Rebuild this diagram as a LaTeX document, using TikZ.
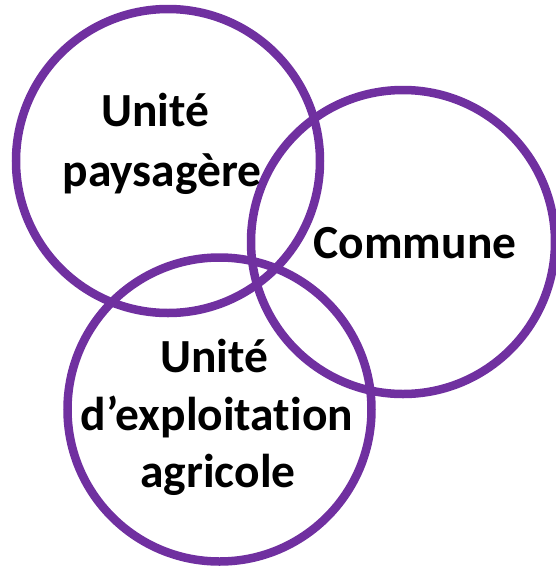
\documentclass[tikz,border=0pt]{standalone}
\usepackage{fontspec}
\setmainfont{Carlito}[Ligatures=NoCommon]
\definecolor{vpurple}{HTML}{7030A0}
\begin{document}
\begin{tikzpicture}[x=1pt,y=-1pt,
  ring/.style={draw=vpurple, line width=8.5pt, circle, minimum size=304pt, inner sep=0pt},
  label/.style={anchor=base, inner sep=0pt, font=\fontsize{47.5}{57}\selectfont\bfseries}]
\useasboundingbox (0,0) rectangle (556,566);
\node[ring] (c1) at (168,161) {};
\node[ring] (c2) at (403,242) {};
\node[ring] (c3) at (219.5,409.5) {};
\node[label] (t1a) at (155,126) {Unité};
\node[label] (t1b) at (162,186) {paysagère};
\node[label] (t2) at (415,258) {Commune};
\node[label] (t3a) at (214,372) {Unité};
\node[label] (t3b) at (217,430) {d’exploitation};
\node[label] (t3c) at (218,487) {agricole};
\end{tikzpicture}
\end{document}
